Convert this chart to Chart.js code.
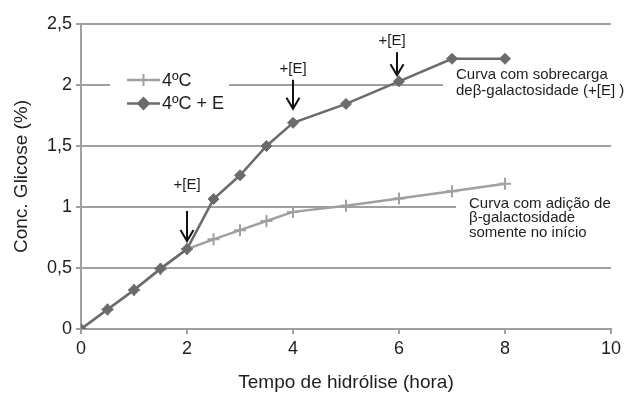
<!DOCTYPE html>
<html>
<head>
<meta charset="utf-8">
<script src="https://cdn.jsdelivr.net/npm/chart.js@4.4.0/dist/chart.umd.min.js"></script>
<style>
  html, body { margin: 0; padding: 0; background: #fff; }
  #wrap { width: 631px; height: 393px; }
</style>
</head>
<body>
<div id="wrap"><canvas id="chart"></canvas></div>
<script>
// values
const hours = [0, 0.5, 1, 1.5, 2, 2.5, 3, 3.5, 4, 5, 6, 7, 8]
const cold = [0, 0.16, 0.32, 0.49, 0.655, 0.735, 0.81, 0.885, 0.96, 1.01, 1.07, 1.13, 1.19]
const coldEnzyme = [0, 0.16, 0.32, 0.495, 0.655, 1.065, 1.26, 1.5, 1.69, 1.845, 2.03, 2.215, 2.215]
const seriesNames = ['4ºC', '4ºC + E']
const enzymeAdded = [2, 4, 6] // hours where more enzyme went in

const FONT = '"Liberation Sans", Arial, sans-serif'
const font = size => `${size}px ${FONT}`
const GRID = '#a0a0a0'
const DARK = '#6b6b6b'
const TEXT = '#1e1e1e'

const toPoints = ys => hours.map((h, i) => ({ x: h, y: ys[i] }))

// where the "+[E]" text and arrow sit, relative to the marked point
const arrowOffsets = [
  { tx: 0, ty: -64, ax: 0, from: -38, to: -8 },
  { tx: 0, ty: -54, ax: 0, from: -43, to: -14 },
  { tx: -7, ty: -40, ax: -2, from: -29, to: -6 }
]

const overlay = {
  id: 'overlay',
  beforeDatasetsDraw (chart) {
    const ctx = chart.ctx
    ctx.save()
    // white boxes behind legend and notes (they cut the gridlines)
    ctx.fillStyle = '#fff'
    ctx.fillRect(110, 68, 119, 46)
    ctx.fillRect(443, 64, 188, 36)
    ctx.fillRect(456, 194, 175, 48)

    // legend
    const legend = [
      { y: 80, color: GRID, style: 'cross', radius: 6 },
      { y: 103.5, color: DARK, style: 'rectRot', radius: 5.5 }
    ]
    legend.forEach((item, i) => {
      ctx.strokeStyle = item.color
      ctx.fillStyle = item.color
      ctx.lineWidth = 2.5
      ctx.beginPath()
      ctx.moveTo(127, item.y)
      ctx.lineTo(160, item.y)
      ctx.stroke()
      ctx.lineWidth = 2
      Chart.helpers.drawPoint(ctx, { pointStyle: item.style, radius: item.radius, borderWidth: 1.5, rotation: 0 }, 143.5, item.y)
      ctx.fillStyle = TEXT
      ctx.font = font(18)
      ctx.textAlign = 'left'
      ctx.textBaseline = 'middle'
      ctx.fillText(seriesNames[i], 162, item.y + 1)
    })

    // notes
    ctx.font = font(15)
    ctx.fillStyle = TEXT
    ctx.fillText('Curva com sobrecarga', 456, 75)
    ctx.fillText('deβ-galactosidade (+[E] )', 456, 90.5)
    ctx.fillText('Curva com adição de', 469, 203.5)
    ctx.fillText('β-galactosidade', 469, 218)
    ctx.fillText('somente no início', 469, 232.5)
    ctx.restore()
  },
  afterDatasetsDraw (chart) {
    const ctx = chart.ctx
    const xs = chart.scales.x
    const ys = chart.scales.y
    ctx.save()
    ctx.strokeStyle = '#111'
    ctx.fillStyle = TEXT
    ctx.lineWidth = 2
    ctx.font = font(15)
    ctx.textAlign = 'center'
    ctx.textBaseline = 'middle'
    enzymeAdded.forEach((h, k) => {
      const i = hours.indexOf(h)
      const px = xs.getPixelForValue(h)
      const py = ys.getPixelForValue(coldEnzyme[i])
      const o = arrowOffsets[k]
      ctx.fillText('+[E]', px + o.tx, py + o.ty)
      const ax = px + o.ax
      const tip = py + o.to
      ctx.beginPath()
      ctx.moveTo(ax, py + o.from)
      ctx.lineTo(ax, tip)
      ctx.moveTo(ax - 6.5, tip - 11)
      ctx.lineTo(ax, tip)
      ctx.lineTo(ax + 6.5, tip - 11)
      ctx.stroke()
    })
    ctx.restore()
  }
}

const chart = new Chart(document.getElementById('chart'), {
  type: 'line',
  data: {
    datasets: [
      {
        label: seriesNames[0],
        data: toPoints(cold),
        borderColor: GRID,
        backgroundColor: GRID,
        borderWidth: 2.5,
        pointStyle: 'cross',
        pointRadius: 6,
        pointBorderWidth: 2,
        order: 2
      },
      {
        label: seriesNames[1],
        data: toPoints(coldEnzyme),
        borderColor: DARK,
        backgroundColor: DARK,
        borderWidth: 2.5,
        pointStyle: 'rectRot',
        pointRadius: 5.5,
        pointBorderWidth: 1,
        order: 1
      }
    ]
  },
  options: {
    responsive: true,
    maintainAspectRatio: false,
    animation: false,
    layout: {
      padding: { top: 24, right: 20, left: 0, bottom: 0 }
    },
    plugins: {
      legend: { display: false },
      tooltip: { enabled: false }
    },
    scales: {
      x: {
        type: 'linear',
        min: 0,
        max: 10,
        ticks: {
          stepSize: 2,
          color: TEXT,
          font: { family: FONT, size: 18 },
          padding: 4
        },
        grid: {
          drawOnChartArea: false,
          drawTicks: true,
          tickLength: 5,
          color: GRID,
          lineWidth: 2
        },
        border: { color: GRID, width: 2 },
        title: {
          display: true,
          text: 'Tempo de hidrólise (hora)',
          color: TEXT,
          font: { family: FONT, size: 19 },
          padding: { top: 0, bottom: -1 }
        },
        afterFit: scale => { scale.height = 64 }
      },
      y: {
        min: 0,
        max: 2.5,
        ticks: {
          stepSize: 0.5,
          color: TEXT,
          font: { family: FONT, size: 18 },
          padding: 4,
          callback: v => String(v).replace('.', ',')
        },
        grid: {
          color: GRID,
          lineWidth: 2,
          drawTicks: true,
          tickLength: 5
        },
        border: { color: GRID, width: 2 },
        title: {
          display: true,
          text: 'Conc. Glicose (%)',
          color: TEXT,
          font: { family: FONT, size: 19 },
          padding: { top: 10, bottom: 0 }
        },
        afterFit: scale => { scale.width = 81 }
      }
    }
  },
  plugins: [overlay]
})
</script>
</body>
</html>
